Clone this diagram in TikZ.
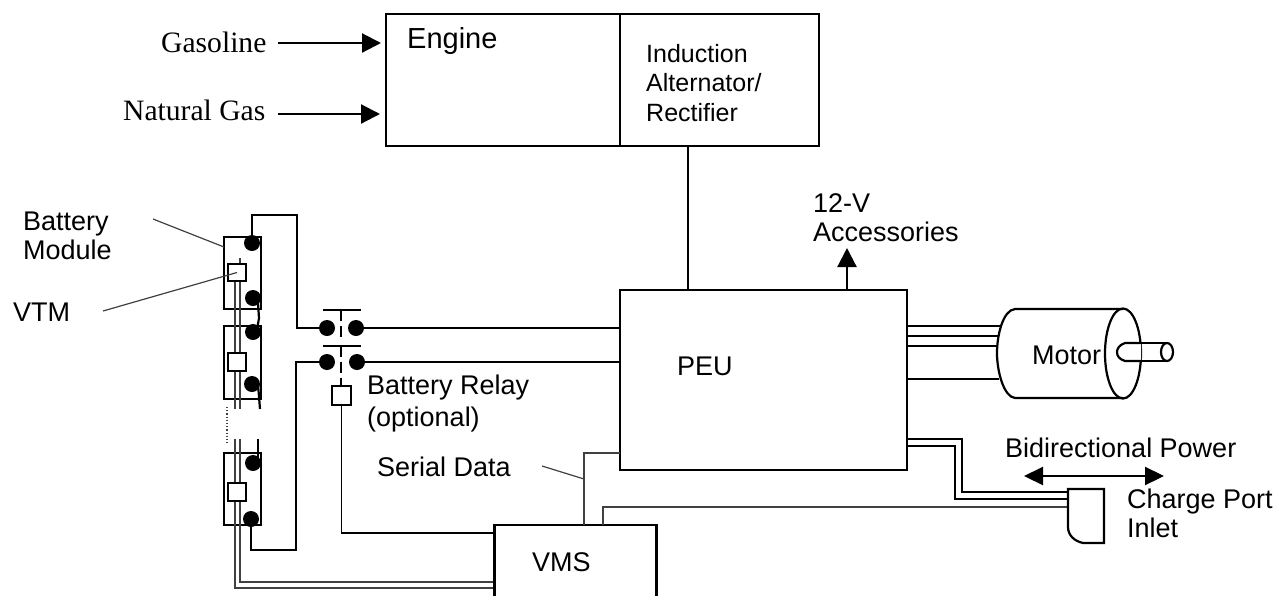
\documentclass[tikz,border=0pt]{standalone}
\usepackage{fontspec}
\setmainfont{Liberation Sans}
\newfontfamily\serifface{Liberation Serif}
\usetikzlibrary{arrows.meta}
\tikzset{
  x=1pt,y=-1pt,
  wire/.style={line width=2.2pt,black},
  boxline/.style={draw,line width=2.4pt,black,outer sep=0pt},
  thin wire/.style={line width=1.2pt,black!75},
  leader/.style={line width=1.2pt,black!75},
  dot/.style={circle,fill=black,inner sep=0pt,minimum size=16pt},
  sq/.style={draw,line width=2pt,fill=white,inner sep=0pt,minimum size=17.5pt},
  lab/.style={anchor=west,inner sep=0pt,font=\fontsize{27}{29}\selectfont,align=left},
  serlab/.style={anchor=west,inner sep=0pt,font=\serifface\fontsize{29.6}{32}\selectfont},
  head/.style={-{Triangle[length=19pt,width=19pt]},line width=2.2pt},
  dhead/.style={{Triangle[length=19pt,width=18pt]}-{Triangle[length=19pt,width=18pt]},line width=2.2pt},
  relaybar/.style={line width=2pt},
  relaydash/.style={line width=1.8pt,dash pattern=on 11pt off 5pt}
}
\begin{document}
\begin{tikzpicture}
\useasboundingbox (0,0) rectangle (1278,595);
% engine
\node[boxline,minimum width=234pt,minimum height=132pt,inner sep=0pt,anchor=north west] (engine) at (386,14) {};
\node[boxline,minimum width=199pt,minimum height=132pt,inner sep=0pt,anchor=north west] (alt) at (620,14) {};
\node[lab,font=\fontsize{29}{32}\selectfont] (engtxt) at (407,41) {Engine};
\node[lab,font=\fontsize{25}{29.5}\selectfont] (alttxt) at (646,83) {Induction\\Alternator/\\Rectifier};
\node[serlab] (gas) at (161,42) {Gasoline};
\node[serlab] (ng) at (123,110) {Natural Gas};
\coordinate (g0) at (278,43); \coordinate (g1) at (381,43);
\coordinate (n0) at (278,114); \coordinate (n1) at (380,114);
\draw[head] (g0) -- (g1);
\draw[head] (n0) -- (n1);
% PEU
\node[boxline,minimum width=287pt,minimum height=180pt,inner sep=0pt,anchor=north west] (peu) at (620,290) {};
\node[lab] (peutxt) at (677,366) {PEU};
\coordinate (altb) at (688,146); \coordinate (altc) at (688,290);
\draw[wire] (altb) -- (altc);
\coordinate (acc0) at (847,290); \coordinate (acc1) at (847,248);
\draw[head] (acc0) -- (acc1);
\node[lab] (acc) at (813,218) {12-V\\Accessories};
% modules
\node[boxline,minimum width=37pt,minimum height=72pt,inner sep=0pt,anchor=north west] (m1) at (224,237) {};
\node[boxline,minimum width=37pt,minimum height=73pt,inner sep=0pt,anchor=north west] (m2) at (224,326) {};
\node[boxline,minimum width=37pt,minimum height=72pt,inner sep=0pt,anchor=north west] (m3) at (224,453) {};
% signal lines through modules
\coordinate (s1a) at (235,264); \coordinate (s1b) at (235,409);
\coordinate (s2a) at (240,258); \coordinate (s2b) at (240,409);
\coordinate (s3a) at (235,439); \coordinate (s3b) at (235,588);
\coordinate (s4a) at (240,439); \coordinate (s4b) at (240,582);
\draw[thin wire] (s1a) -- (s1b);
\draw[thin wire] (s2a) -- (s2b);
\coordinate (v1) at (495,588); \coordinate (v2) at (495,582);
\draw[thin wire] (s3a) -- (s3b) -- (v1);
\draw[thin wire] (s4a) -- (s4b) -- (v2);
\node[sq] (t1) at (237,272.5) {};
\node[sq] (t2) at (237,362) {};
\node[sq] (t3) at (237,492) {};
\node[dot] (d1a) at (252,243) {};
\node[dot] (d1b) at (253,298) {};
\node[dot] (d2a) at (253,332) {};
\node[dot] (d2b) at (252,384) {};
\node[dot] (d3a) at (253,463) {};
\node[dot] (d3b) at (251,519) {};
\coordinate (j1) at (258,303); \coordinate (j2) at (259,318); \coordinate (j3) at (257,330);
\draw[wire] (j1) -- (j2) -- (j3);
\coordinate (st1) at (258,384); \coordinate (st2) at (260,409);
\coordinate (st3) at (258,439); \coordinate (st4) at (258,460);
\draw[wire] (st1) -- (st2);
\draw[wire] (st3) -- (st4);
\coordinate (dota) at (227,407); \coordinate (dotb) at (227,443);
\draw[line width=1.2pt,dotted,black!75] (dota) -- (dotb);
% relay
\node[dot] (r1a) at (327,328) {};
\node[dot] (r1b) at (356,328) {};
\node[dot] (r2a) at (327,362) {};
\node[dot] (r2b) at (357,362) {};
\coordinate (w1) at (252,215); \coordinate (w2) at (297,215); \coordinate (w3) at (297,328);
\draw[wire] (d1a.center) -- (w1) -- (w2) -- (w3) -- (r1a.center);
\coordinate (w4) at (296,362); \coordinate (w5) at (296,550); \coordinate (w6) at (251,550);
\draw[wire] (r2a.center) -- (w4) -- (w5) -- (w6) -- (d3b.center);
\coordinate (p1) at (620,328); \coordinate (p2) at (620,362);
\draw[wire] (r1b.center) -- (p1);
\draw[wire] (r2b.center) -- (p2);
\coordinate (b1a) at (323,310); \coordinate (b1b) at (361,310);
\coordinate (b2a) at (323,346); \coordinate (b2b) at (361,346);
\draw[relaybar] (b1a) -- (b1b);
\draw[relaybar] (b2a) -- (b2b);
\coordinate (b1c) at (341,310); \coordinate (b1d) at (341,338);
\coordinate (b2c) at (341,346); \coordinate (b2d) at (341,386);
\draw[relaydash] (b1c) -- (b1d);
\draw[relaydash] (b2c) -- (b2d);
\node[sq,minimum width=19pt,minimum height=19pt] (rs) at (341.5,395.5) {};
\node[lab,font=\fontsize{27}{32}\selectfont] (rtxt) at (367,404) {Battery Relay\\(optional)};
\coordinate (rc) at (341.5,533);
\node[boxline,minimum width=162pt,minimum height=90pt,inner sep=0pt,anchor=north west] (vmsbox) at (494.5,525) {};
\coordinate (rd) at (494.5,533);
\draw[line width=1.5pt] (rs.south) -- (rc) -- (rd);
\node[lab] (vms) at (532,562) {VMS};
% serial data
\coordinate (sd0) at (584,525); \coordinate (sd1) at (584,453); \coordinate (sd2) at (620,453);
\draw[thin wire] (sd0) -- (sd1) -- (sd2);
\coordinate (l0) at (542,466); \coordinate (l1) at (584,479);
\draw[leader] (l0) -- (l1);
\node[lab] (sdtxt) at (377,467) {Serial Data};
\coordinate (cp0) at (603,525); \coordinate (cp1) at (603,507); \coordinate (cp2) at (1068,507);
\draw[thin wire] (cp0) -- (cp1) -- (cp2);
% labels left
\node[lab] (bm) at (23,236) {Battery\\Module};
\node[lab] (vtm) at (13,312) {VTM};
\coordinate (bl0) at (153,219); \coordinate (bl1) at (224,247);
\coordinate (vl0) at (103,311);
\draw[leader] (bl0) -- (bl1);
\draw[leader] (vl0) -- (t1.center);
% motor
\coordinate (ml1) at (907,326); \coordinate (mr1) at (1001,326);
\coordinate (ml2) at (907,336); \coordinate (mr2) at (998,336);
\coordinate (ml3) at (907,346); \coordinate (mr3) at (997,346);
\coordinate (ml4) at (907,379); \coordinate (mr4) at (999,379);
\draw[wire] (ml1) -- (mr1);
\draw[wire] (ml2) -- (mr2);
\draw[wire] (ml3) -- (mr3);
\draw[wire] (ml4) -- (mr4);
\draw[line width=2.2pt] (1123,309) -- (1015,309) .. controls (1003,310) and (997,335) .. (997,353) .. controls (997,372) and (1004,397) .. (1015,398) -- (1123,398);
\draw[line width=2.2pt] (1123,353.5) ellipse [x radius=18pt,y radius=45pt];
\draw[line width=2.2pt,fill=white] (1141,343) -- (1125,343) .. controls (1119,345) and (1117,349) .. (1117,352) .. controls (1117,356) and (1119,359) .. (1125,361) -- (1141,361);
\draw[line width=2.2pt] (1141,343) -- (1167,343) (1141,361) -- (1167,361);
\draw[line width=2.2pt] (1167,352) ellipse [x radius=6pt,y radius=9pt];
\node[lab] (mot) at (1032,355) {Motor};
% charge
\coordinate (c1) at (907,439); \coordinate (c2) at (962,439); \coordinate (c3) at (962,492); \coordinate (c4) at (1068,492);
\coordinate (e1) at (907,446); \coordinate (e2) at (955,446); \coordinate (e3) at (955,499); \coordinate (e4) at (1068,499);
\draw[line width=1.8pt] (c1) -- (c2) -- (c3) -- (c4);
\draw[line width=1.8pt] (e1) -- (e2) -- (e3) -- (e4);
\draw[line width=2.2pt] (1068,489) -- (1104,489) -- (1104,543) -- (1083,543) .. controls (1074,541) and (1068,535) .. (1068,527) -- cycle;
\coordinate (ar0) at (1024,476); \coordinate (ar1) at (1164,476);
\draw[dhead] (ar0) -- (ar1);
\node[lab] (bp) at (1005,448) {Bidirectional Power};
\node[lab] (ch) at (1127,513) {Charge Port\\Inlet};
\end{tikzpicture}
\end{document}
